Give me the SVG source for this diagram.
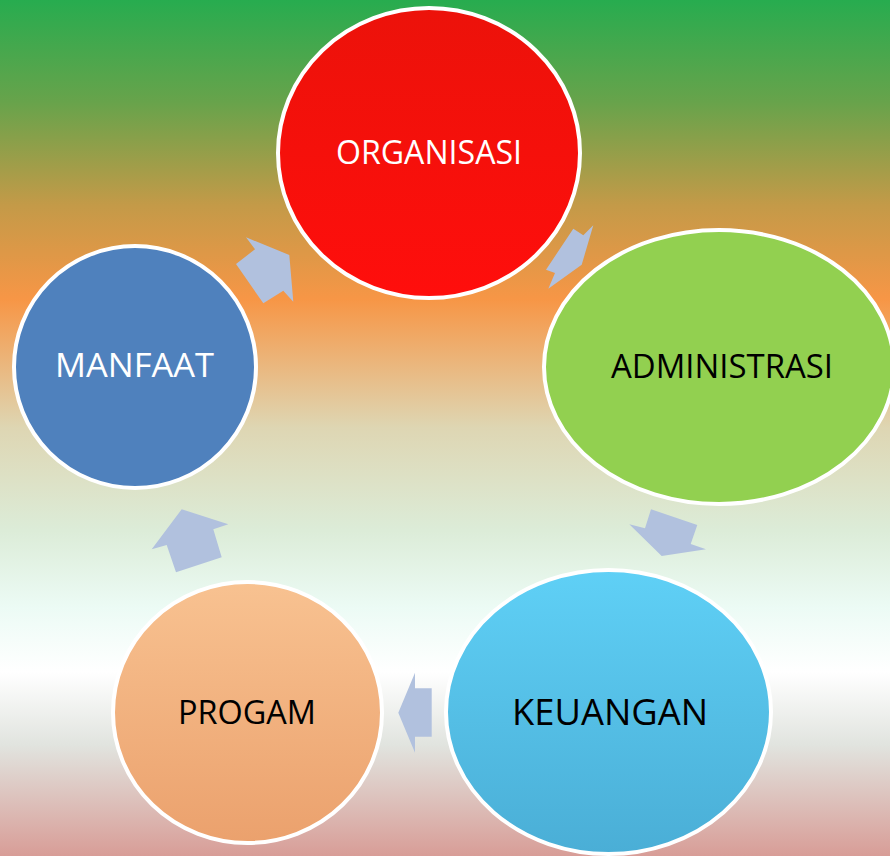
<svg xmlns="http://www.w3.org/2000/svg" width="890" height="856" viewBox="0 0 890 856">
<defs>
<linearGradient id="bg" x1="0" y1="0" x2="0" y2="1">
<stop offset="0" stop-color="#27ac4f"/>
<stop offset="0.12" stop-color="#68a34b"/>
<stop offset="0.24" stop-color="#c49a48"/>
<stop offset="0.35" stop-color="#f79646"/>
<stop offset="0.5" stop-color="#ded6b3"/>
<stop offset="0.62" stop-color="#dcecd8"/>
<stop offset="0.71" stop-color="#ecfbf5"/>
<stop offset="0.785" stop-color="#ffffff"/>
<stop offset="0.87" stop-color="#e1e4df"/>
<stop offset="1" stop-color="#d89d97"/>
</linearGradient>
<linearGradient id="gRed" x1="0" y1="0" x2="0" y2="1">
<stop offset="0" stop-color="#ec120a"/>
<stop offset="1" stop-color="#ff0e0c"/>
</linearGradient>
<linearGradient id="gCyan" x1="0" y1="0" x2="0" y2="1">
<stop offset="0" stop-color="#5fd0f6"/>
<stop offset="1" stop-color="#4aaed6"/>
</linearGradient>
<linearGradient id="gOrange" x1="0" y1="0" x2="0" y2="1">
<stop offset="0" stop-color="#f8c291"/>
<stop offset="1" stop-color="#eba16d"/>
</linearGradient>
</defs>
<style>
.node ellipse { stroke: #ffffff; stroke-width: 4; }
.node text { font-family: "Open Sans", "Liberation Sans", sans-serif; text-anchor: middle; }
.w { fill: #ffffff; }
.b { fill: #000000; }
.arrow { fill: #b1c1de; }
</style>
<rect x="0" y="0" width="890" height="856" fill="url(#bg)"/>
<g id="connectors">
<polygon class="arrow" points="236,264 255,249.3 246,237.3 289.3,255 293.3,301.7 283.3,290.7 263.3,303.3"/>
<polygon class="arrow" points="573.3,228.7 583.3,235.3 593.3,225.3 581.7,264.7 548.3,288.7 555,273 546,269.7"/>
<polygon class="arrow" points="651,509.3 697.3,525 690.7,544 706,549.3 661.7,556 629.3,524.3 645,528.3"/>
<polygon class="arrow" points="431.7,688.3 415,688.3 415,672.7 398.3,712.7 415,752.7 415,736.7 431.7,736.7"/>
<polygon class="arrow" points="181.7,509.3 228.3,524.3 213.3,529.3 221.7,557.3 176,572.3 166.7,545 151.7,549.3"/>
</g>
<g id="organisasi" class="node">
<ellipse cx="429" cy="153" rx="151" ry="145" fill="url(#gRed)"/>
<text class="w" x="429" y="164" font-size="32" textLength="186" lengthAdjust="spacingAndGlyphs">ORGANISASI</text>
</g>
<g id="administrasi" class="node">
<ellipse cx="719" cy="367" rx="175" ry="137" fill="#92d050"/>
<text class="b" x="722" y="378" font-size="33" textLength="222" lengthAdjust="spacingAndGlyphs">ADMINISTRASI</text>
</g>
<g id="keuangan" class="node">
<ellipse cx="608.5" cy="712" rx="162.5" ry="142" fill="url(#gCyan)"/>
<text class="b" x="610" y="725" font-size="37" textLength="196" lengthAdjust="spacingAndGlyphs">KEUANGAN</text>
</g>
<g id="progam" class="node">
<ellipse cx="247.5" cy="712.5" rx="134.5" ry="130.5" fill="url(#gOrange)"/>
<text class="b" x="247" y="724" font-size="33" textLength="138" lengthAdjust="spacingAndGlyphs">PROGAM</text>
</g>
<g id="manfaat" class="node">
<ellipse cx="135" cy="367" rx="121" ry="121" fill="#4f81bd"/>
<text class="w" x="134.5" y="377" font-size="32" textLength="159" lengthAdjust="spacingAndGlyphs">MANFAAT</text>
</g>
</svg>
